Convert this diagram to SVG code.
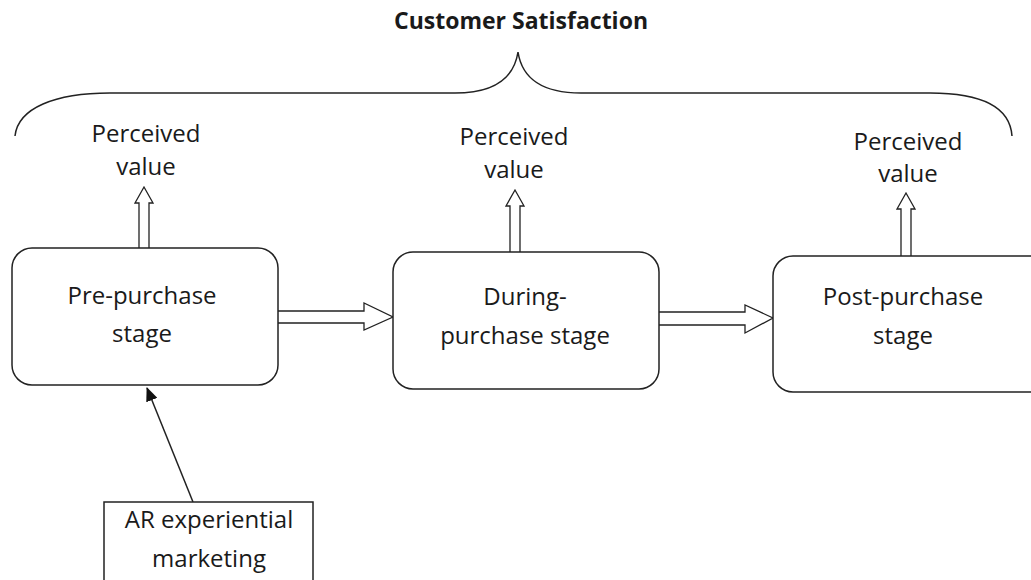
<svg xmlns="http://www.w3.org/2000/svg" width="1031" height="580" viewBox="0 0 1031 580">
<style>
.t{font-family:"Open Sans","Liberation Sans",sans-serif;font-size:24px;fill:#1a1a1a;text-anchor:middle}
.b{font-weight:bold;font-size:23px}
.box{fill:#fff;stroke:#222;stroke-width:1.5}
.blk{fill:#fff;stroke:#222;stroke-width:1.3;stroke-linejoin:miter}
.ln{fill:none;stroke:#222;stroke-width:1.5}
</style>
<defs>
<marker id="ah" markerWidth="14" markerHeight="12" refX="13" refY="6" orient="auto" markerUnits="userSpaceOnUse">
<path d="M0,0 L14,6 L0,12 Z" fill="#111"/>
</marker>
</defs>
<rect width="1031" height="580" fill="#fff"/>
<text class="t b" x="521" y="29">Customer Satisfaction</text>
<path class="ln" d="M15,136 C18,108 55,93 110,93 L455,93 C495,93 514,78 518,52 C522,78 541,93 581,93 L930,93 C985,93 1010,108 1012,136"/>
<g id="connectors">
<path class="blk" d="M139,248 L139,203 L135,203 L144,187 L153,203 L149,203 L149,248"/>
<path class="blk" d="M510,252 L510,206 L506,206 L515,190 L524,206 L520,206 L520,252"/>
<path class="blk" d="M901,256 L901,209 L897,209 L906,193 L915,209 L911,209 L911,256"/>
<path class="blk" d="M278,311 L364,311 L364,303 L393,317 L364,330 L364,323 L278,323"/>
<path class="blk" d="M659,312 L745,312 L745,305 L773,318 L745,333 L745,325 L659,325"/>
<line class="ln" x1="193" y1="502" x2="147" y2="388" marker-end="url(#ah)"/>
</g>
<g id="pv1"><text class="t" x="146" y="142">Perceived</text><text class="t" x="146" y="175">value</text></g>
<g id="pv2"><text class="t" x="514" y="145">Perceived</text><text class="t" x="514" y="178">value</text></g>
<g id="pv3"><text class="t" x="908" y="150">Perceived</text><text class="t" x="908" y="182">value</text></g>
<g id="pre"><rect class="box" x="12" y="248" width="266" height="137" rx="20"/><text class="t" x="142" y="304">Pre-purchase</text><text class="t" x="142" y="342">stage</text></g>
<g id="during"><rect class="box" x="393" y="252" width="266" height="137" rx="20"/><text class="t" x="525" y="305">During-</text><text class="t" x="525" y="344">purchase stage</text></g>
<g id="post"><rect class="box" x="773" y="256" width="280" height="136" rx="20"/><text class="t" x="903" y="305">Post-purchase</text><text class="t" x="903" y="344">stage</text></g>
<g id="ar"><rect x="104" y="502" width="209" height="100" fill="#fff" stroke="#222" stroke-width="1.5"/><text class="t" x="209" y="528">AR experiential</text><text class="t" x="209" y="567">marketing</text></g>
</svg>
